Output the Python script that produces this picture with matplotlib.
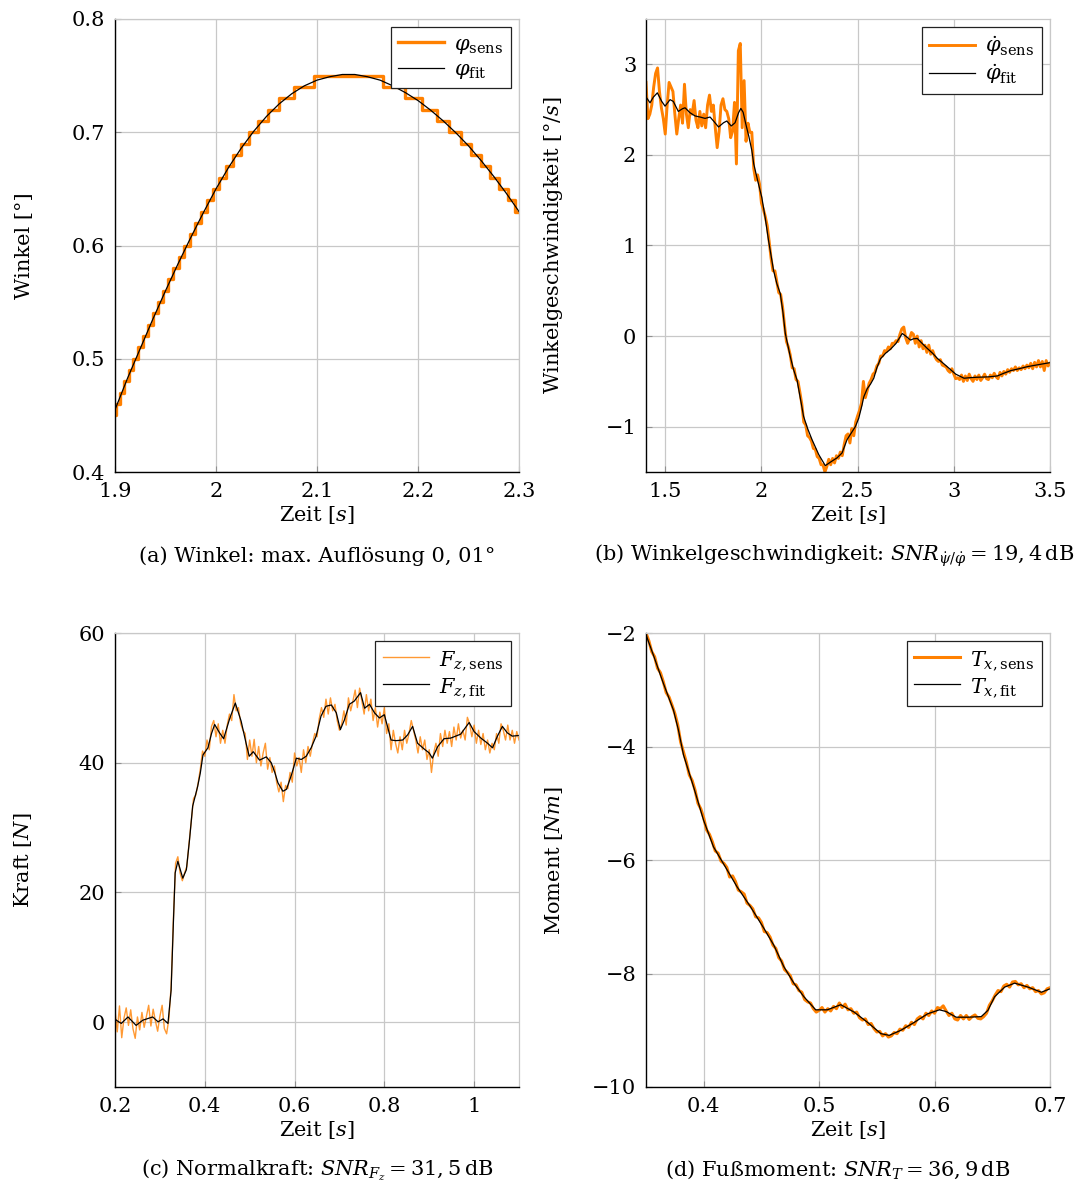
import numpy as np
import matplotlib
matplotlib.use('Agg')
import matplotlib.pyplot as plt
from matplotlib.ticker import FuncFormatter

plt.rcParams['font.family'] = 'DejaVu Serif'
plt.rcParams['mathtext.fontset'] = 'dejavuserif'
plt.rcParams['font.size'] = 15

ORANGE = '#ff8000'
GRID = '#c8c8c8'

# (a) Winkel: quantised sensor signal (step start times and levels) and fit
a_step_t = [1.9000, 1.9010, 1.9045, 1.9089, 1.9135, 1.9183, 1.9231, 1.9279, 1.9327, 1.9375,
            1.9425, 1.9475, 1.9526, 1.9578, 1.9630, 1.9685, 1.9739, 1.9795, 1.9852, 1.9911,
            1.9970, 2.0033, 2.0099, 2.0169, 2.0243, 2.0325, 2.0413, 2.0511, 2.0625, 2.0768,
            2.0975, 2.1650, 2.1875, 2.2044, 2.2184, 2.2310, 2.2424, 2.2529, 2.2625, 2.2714,
            2.2804, 2.2887, 2.2961]
a_step_v = [0.45, 0.46, 0.47, 0.48, 0.49, 0.50, 0.51, 0.52, 0.53, 0.54,
            0.55, 0.56, 0.57, 0.58, 0.59, 0.60, 0.61, 0.62, 0.63, 0.64,
            0.65, 0.66, 0.67, 0.68, 0.69, 0.70, 0.71, 0.72, 0.73, 0.74,
            0.75, 0.74, 0.73, 0.72, 0.71, 0.70, 0.69, 0.68, 0.67, 0.66,
            0.65, 0.64, 0.63]
a_fit_t = [1.9000, 1.9125, 1.9250, 1.9375, 1.9500, 1.9625, 1.9750, 1.9875, 2.0000, 2.0125,
           2.0250, 2.0375, 2.0500, 2.0625, 2.0750, 2.0875, 2.1000, 2.1125, 2.1250, 2.1375,
           2.1500, 2.1625, 2.1750, 2.1875, 2.2000, 2.2125, 2.2250, 2.2375, 2.2500, 2.2625,
           2.2750, 2.2875, 2.3000]
a_fit_v = [0.455, 0.483, 0.509, 0.535, 0.560, 0.584, 0.607, 0.629, 0.650, 0.669,
           0.686, 0.701, 0.714, 0.725, 0.734, 0.741, 0.746, 0.749, 0.751, 0.751,
           0.749, 0.746, 0.741, 0.735, 0.728, 0.7195, 0.710, 0.6995, 0.688, 0.675,
           0.661, 0.646, 0.630]

# (b) Winkelgeschwindigkeit: sensor sampled every 10 ms from 1.40 s, fit
b_sens_start, b_sens_dt = 1.40, 0.01
b_sens_v = [2.80, 2.40, 2.45, 2.55, 2.75, 2.90, 2.96, 2.70, 2.52, 2.40,
            2.23, 2.55, 2.80, 2.75, 2.70, 2.45, 2.23, 2.40, 2.55, 2.35,
            2.78, 2.45, 2.30, 2.50, 2.45, 2.60, 2.38, 2.30, 2.48, 2.32,
            2.45, 2.30, 2.55, 2.66, 2.48, 2.55, 2.30, 2.08, 2.26, 2.55,
            2.62, 2.50, 2.48, 2.40, 2.19, 2.26, 2.58, 1.90, 3.15, 3.23,
            2.30, 2.82, 2.15, 2.35, 2.25, 2.25, 1.85, 1.72, 1.78, 1.68,
            1.47, 1.40, 1.32, 1.22, 1.05, 0.86, 0.72, 0.72, 0.60, 0.48,
            0.46, 0.32, 0.12, -0.06, -0.12, -0.21, -0.35, -0.36, -0.48, -0.50,
            -0.62, -0.75, -0.95, -0.98, -1.10, -1.12, -1.16, -1.24, -1.25, -1.33,
            -1.35, -1.42, -1.42, -1.50, -1.44, -1.36, -1.42, -1.35, -1.40, -1.32,
            -1.35, -1.28, -1.32, -1.20, -1.10, -1.08, -1.18, -1.02, -1.10, -0.95,
            -0.88, -0.82, -0.74, -0.50, -0.68, -0.60, -0.52, -0.48, -0.42, -0.40,
            -0.33, -0.30, -0.22, -0.22, -0.16, -0.17, -0.12, -0.14, -0.08, -0.08,
            -0.05, -0.06, 0.02, 0.08, 0.10, -0.02, -0.08, -0.03, 0.04, 0.02,
            -0.08, 0.00, -0.12, -0.05, -0.14, -0.10, -0.18, -0.10, -0.20, -0.16,
            -0.22, -0.26, -0.28, -0.26, -0.32, -0.33, -0.34, -0.38, -0.40, -0.36,
            -0.42, -0.47, -0.46, -0.48, -0.43, -0.50, -0.44, -0.49, -0.42, -0.47,
            -0.50, -0.44, -0.48, -0.43, -0.49, -0.46, -0.42, -0.47, -0.48, -0.43,
            -0.46, -0.41, -0.45, -0.47, -0.40, -0.44, -0.39, -0.42, -0.37, -0.40,
            -0.36, -0.38, -0.34, -0.38, -0.35, -0.37, -0.33, -0.36, -0.32, -0.35,
            -0.30, -0.36, -0.29, -0.34, -0.27, -0.34, -0.28, -0.38, -0.27, -0.33,
            -0.30]
b_fit_t = [1.400, 1.421, 1.438, 1.459, 1.482, 1.499, 1.525, 1.542, 1.568, 1.590,
           1.603, 1.629, 1.655, 1.681, 1.707, 1.733, 1.751, 1.777, 1.803, 1.820,
           1.843, 1.863, 1.881, 1.893, 1.905, 1.920, 1.935, 1.950, 1.960, 1.980,
           2.002, 2.020, 2.037, 2.063, 2.080, 2.098, 2.112, 2.124, 2.150, 2.167,
           2.185, 2.200, 2.219, 2.240, 2.263, 2.298, 2.332, 2.358, 2.393, 2.419,
           2.445, 2.489, 2.506, 2.523, 2.532, 2.550, 2.567, 2.584, 2.600, 2.619,
           2.645, 2.671, 2.700, 2.732, 2.750, 2.775, 2.790, 2.810, 2.835, 2.862,
           2.890, 2.914, 2.945, 2.975, 3.010, 3.053, 3.090, 3.122, 3.180, 3.226,
           3.260, 3.296, 3.340, 3.383, 3.440, 3.500]
b_fit_v = [2.640, 2.575, 2.637, 2.685, 2.590, 2.538, 2.610, 2.590, 2.480, 2.510,
           2.520, 2.465, 2.430, 2.418, 2.403, 2.418, 2.374, 2.308, 2.355, 2.374,
           2.319, 2.355, 2.465, 2.513, 2.470, 2.330, 2.200, 2.050, 1.900, 1.720,
           1.530, 1.300, 1.055, 0.725, 0.580, 0.469, 0.260, 0.030, -0.227, -0.370,
           -0.484, -0.660, -0.886, -1.020, -1.143, -1.308, -1.430, -1.392, -1.344, -1.290,
           -1.143, -0.996, -0.905, -0.760, -0.670, -0.580, -0.530, -0.465, -0.350, -0.250,
           -0.190, -0.145, -0.080, 0.029, 0.000, -0.044, -0.030, -0.026, -0.080, -0.136,
           -0.190, -0.245, -0.300, -0.355, -0.420, -0.465, -0.458, -0.454, -0.450, -0.440,
           -0.410, -0.381, -0.360, -0.337, -0.315, -0.293]

# (c) Normalkraft: sensor sampled every 5 ms from 0.2 s, fit
c_sens_start, c_sens_dt = 0.20, 0.005
c_sens_v = [1.8, -1.5, 2.5, -2.4, 0.6, 2.2, -0.5, 1.9, -1.0, -2.5,
            0.8, -1.2, 1.5, -0.8, 0.9, 2.6, -0.6, 2.0, 0.2, -1.4,
            0.9, 2.6, -1.0, -1.8, 0.5, 5.5, 15.8, 24.5, 25.5, 23.0,
            21.8, 23.0, 24.0, 27.6, 31.0, 34.5, 35.0, 36.8, 39.0, 41.8,
            41.0, 43.5, 42.0, 45.6, 46.5, 44.0, 46.0, 43.0, 45.0, 43.0,
            45.8, 47.5, 46.5, 50.5, 48.0, 48.5, 46.0, 45.0, 44.5, 40.5,
            43.5, 41.0, 43.6, 40.0, 42.5, 39.5, 41.5, 43.0, 39.0, 40.8,
            38.5, 39.5, 37.0, 35.5, 37.0, 34.0, 36.5, 36.0, 38.5, 37.0,
            41.5, 39.5, 40.8, 38.5, 42.0, 40.0, 42.5, 41.0, 43.0, 44.5,
            44.0, 46.8, 48.5, 47.0, 49.8, 47.5, 50.0, 48.0, 49.0, 46.5,
            45.0, 46.0, 48.0, 45.8, 50.0, 48.0, 49.5, 51.2, 48.5, 51.5,
            49.5, 47.5, 50.5, 48.0, 49.8, 46.5, 48.5, 45.5, 47.8, 46.0,
            48.5, 44.5, 46.0, 42.0, 45.0, 43.0, 41.5, 44.0, 42.0, 45.0,
            43.0, 44.5, 46.5, 45.0, 43.5, 41.5, 44.0, 42.0, 43.5, 40.5,
            42.0, 38.5, 41.5, 43.0, 41.0, 44.5, 42.5, 45.0, 43.0, 44.8,
            42.5, 45.5, 43.5, 46.0, 43.8, 45.0, 43.5, 47.0, 46.0, 44.0,
            45.8, 43.0, 45.0, 42.8, 44.5, 42.0, 43.5, 41.5, 43.0, 42.0,
            44.5, 43.0, 46.0, 45.0, 43.5, 45.8, 43.5, 45.0, 43.0, 44.8,
            43.5]
c_fit_t = [0.200, 0.203, 0.214, 0.229, 0.247, 0.262, 0.284, 0.296, 0.307, 0.318,
           0.325, 0.330, 0.334, 0.340, 0.351, 0.359, 0.366, 0.373, 0.384, 0.390,
           0.396, 0.407, 0.415, 0.422, 0.433, 0.442, 0.455, 0.468, 0.481, 0.492,
           0.499, 0.508, 0.522, 0.537, 0.548, 0.556, 0.563, 0.574, 0.582, 0.593,
           0.604, 0.615, 0.626, 0.637, 0.648, 0.659, 0.670, 0.682, 0.693, 0.702,
           0.711, 0.722, 0.733, 0.747, 0.756, 0.767, 0.778, 0.789, 0.800, 0.807,
           0.815, 0.826, 0.841, 0.852, 0.863, 0.874, 0.889, 0.900, 0.907, 0.919,
           0.933, 0.948, 0.970, 0.989, 1.000, 1.015, 1.030, 1.041, 1.052, 1.063,
           1.074, 1.085, 1.100]
c_fit_v = [0.5, 0.3, -0.2, 0.8, -0.5, 0.3, 0.8, 0.05, 0.5, -0.2,
           4.9, 15.2, 23.0, 24.8, 22.2, 23.5, 28.1, 33.3, 36.3, 38.4,
           41.2, 42.3, 44.5, 45.9, 44.6, 43.7, 46.7, 49.2, 46.4, 43.0,
           41.0, 41.7, 40.4, 40.9, 40.0, 38.5, 36.9, 35.6, 35.9, 38.1,
           40.7, 40.5, 41.0, 42.3, 44.1, 47.2, 48.7, 48.9, 47.7, 45.1,
           46.6, 49.0, 49.5, 50.8, 48.4, 49.0, 47.7, 46.9, 47.4, 45.6,
           43.5, 43.4, 43.5, 44.3, 45.6, 43.0, 42.1, 41.5, 40.7, 42.5,
           43.7, 43.8, 44.4, 46.2, 44.8, 43.8, 43.0, 42.3, 44.1, 45.6,
           44.6, 44.1, 44.2]

# (d) Fussmoment: sensor sampled every 2.5 ms from 0.35 s, fit
d_sens_start, d_sens_dt = 0.35, 0.0025
d_sens_v = [-2.00, -2.14, -2.33, -2.42, -2.62, -2.70, -2.86, -3.05, -3.13, -3.27,
            -3.42, -3.62, -3.92, -4.10, -4.28, -4.50, -4.60, -4.77, -5.00, -5.10,
            -5.26, -5.47, -5.55, -5.68, -5.84, -5.88, -6.02, -6.06, -6.13, -6.30,
            -6.28, -6.38, -6.53, -6.56, -6.60, -6.76, -6.80, -6.86, -7.00, -7.02,
            -7.10, -7.26, -7.28, -7.36, -7.50, -7.56, -7.72, -7.78, -7.93, -7.98,
            -8.04, -8.18, -8.20, -8.30, -8.33, -8.46, -8.50, -8.52, -8.62, -8.68,
            -8.65, -8.60, -8.68, -8.62, -8.66, -8.58, -8.62, -8.52, -8.60, -8.54,
            -8.64, -8.62, -8.70, -8.68, -8.78, -8.82, -8.80, -8.90, -8.88, -8.97,
            -9.03, -9.02, -9.10, -9.06, -9.12, -9.10, -9.04, -9.06, -8.98, -9.00,
            -8.92, -8.95, -8.86, -8.90, -8.80, -8.76, -8.80, -8.70, -8.74, -8.66,
            -8.70, -8.60, -8.62, -8.57, -8.66, -8.74, -8.70, -8.80, -8.82, -8.74,
            -8.80, -8.74, -8.81, -8.76, -8.73, -8.79, -8.80, -8.76, -8.70, -8.56,
            -8.48, -8.38, -8.30, -8.32, -8.22, -8.19, -8.24, -8.15, -8.14, -8.20,
            -8.18, -8.25, -8.21, -8.27, -8.25, -8.32, -8.30, -8.36, -8.34, -8.27,
            -8.25]
d_fit_t = [0.3500, 0.3564, 0.3651, 0.3738, 0.3781, 0.3825, 0.3912, 0.3999, 0.4085, 0.4187,
           0.4288, 0.4404, 0.4520, 0.4607, 0.4694, 0.4781, 0.4868, 0.4970, 0.5071, 0.5187,
           0.5303, 0.5419, 0.5535, 0.5607, 0.5709, 0.5825, 0.5940, 0.6042, 0.6100, 0.6187,
           0.6288, 0.6404, 0.6462, 0.6520, 0.6607, 0.6694, 0.6810, 0.6925, 0.7000]
d_fit_v = [-2.03, -2.39, -2.89, -3.36, -3.71, -4.15, -4.71, -5.30, -5.77, -6.12,
           -6.47, -6.82, -7.20, -7.50, -7.88, -8.17, -8.41, -8.64, -8.64, -8.55,
           -8.68, -8.86, -9.06, -9.09, -9.00, -8.86, -8.71, -8.64, -8.67, -8.77,
           -8.77, -8.76, -8.65, -8.41, -8.24, -8.17, -8.24, -8.33, -8.27]


def sample_times(start, dt, values):
    return start + dt * np.arange(len(values))


def fmt(x, pos):
    return ('%g' % round(x, 6)).replace('-', '\u2212')


def style(ax, xlim, ylim, xticks, yticks, ylabel):
    ax.set_xlim(*xlim)
    ax.set_ylim(*ylim)
    ax.set_xticks(xticks)
    ax.set_yticks(yticks)
    ax.xaxis.set_major_formatter(FuncFormatter(fmt))
    ax.yaxis.set_major_formatter(FuncFormatter(fmt))
    ax.grid(True, color=GRID, lw=0.9)
    ax.set_axisbelow(True)
    for s in ['top', 'right']:
        ax.spines[s].set_color(GRID)
        ax.spines[s].set_linewidth(0.9)
    for s in ['left', 'bottom']:
        ax.spines[s].set_color('black')
        ax.spines[s].set_linewidth(1.0)
    ax.tick_params(direction='in', length=4, width=0.8, color='#909090', pad=7)
    ax.set_xlabel('Zeit [$s$]')
    ax.xaxis.set_label_coords(0.5, -0.07)
    ax.set_ylabel(ylabel)
    ax.yaxis.set_label_coords(-0.2, 0.5)


def legend(ax):
    leg = ax.legend(loc='upper right', fancybox=False, framealpha=1, edgecolor='#222222',
                    handlelength=2.2, handletextpad=0.5, labelspacing=0.2,
                    borderpad=0.35, borderaxespad=0.4)
    leg.get_frame().set_linewidth(0.9)


fig = plt.figure(figsize=(10.76, 11.89), dpi=100)
w = 404 / 1076
h_top = 453 / 1189
h_bot = 454 / 1189
ax_a = fig.add_axes([115 / 1076, 1 - 472 / 1189, w, h_top])
ax_b = fig.add_axes([646 / 1076, 1 - 472 / 1189, w, h_top])
ax_c = fig.add_axes([115 / 1076, 1 - 1087 / 1189, w, h_bot])
ax_d = fig.add_axes([646 / 1076, 1 - 1087 / 1189, w, h_bot])

# (a)
ax_a.step(a_step_t + [2.3], a_step_v + [a_step_v[-1]], where='post', color=ORANGE, lw=2.4,
          label=r'$\varphi_{\mathrm{sens}}$')
ax_a.plot(a_fit_t, a_fit_v, color='black', lw=0.9, label=r'$\varphi_{\mathrm{fit}}$')
style(ax_a, (1.9, 2.3), (0.4, 0.8), [1.9, 2.0, 2.1, 2.2, 2.3], [0.4, 0.5, 0.6, 0.7, 0.8],
      'Winkel [°]')
legend(ax_a)

# (b)
ax_b.plot(sample_times(b_sens_start, b_sens_dt, b_sens_v), b_sens_v, color=ORANGE, lw=2.1,
          label=r'$\dot{\varphi}_{\mathrm{sens}}$')
ax_b.plot(b_fit_t, b_fit_v, color='black', lw=0.9, label=r'$\dot{\varphi}_{\mathrm{fit}}$')
style(ax_b, (1.4, 3.5), (-1.5, 3.5), [1.5, 2.0, 2.5, 3.0, 3.5], [-1, 0, 1, 2, 3],
      'Winkelgeschwindigkeit [°/$s$]')
legend(ax_b)

# (c)
ax_c.plot(sample_times(c_sens_start, c_sens_dt, c_sens_v), c_sens_v, color=ORANGE, lw=1.0,
          alpha=0.8, label=r'$F_{z,\mathrm{sens}}$')
ax_c.plot(c_fit_t, c_fit_v, color='black', lw=0.9, label=r'$F_{z,\mathrm{fit}}$')
style(ax_c, (0.2, 1.1), (-10, 60), [0.2, 0.4, 0.6, 0.8, 1.0], [0, 20, 40, 60], 'Kraft [$N$]')
legend(ax_c)

# (d)
ax_d.plot(sample_times(d_sens_start, d_sens_dt, d_sens_v), d_sens_v, color=ORANGE, lw=2.2,
          label=r'$T_{x,\mathrm{sens}}$')
ax_d.plot(d_fit_t, d_fit_v, color='black', lw=0.9, label=r'$T_{x,\mathrm{fit}}$')
style(ax_d, (0.35, 0.7), (-10, -2), [0.4, 0.5, 0.6, 0.7], [-10, -8, -6, -4, -2],
      'Moment [$Nm$]')
legend(ax_d)

fig.text(317 / 1076, 1 - 556 / 1189, '(a) Winkel: max. Auflösung 0, 01°', ha='center', va='center')
fig.text(834 / 1076, 1 - 556 / 1189,
         r'(b) Winkelgeschwindigkeit: $SNR_{\dot{\psi}/\dot{\varphi}}=19,4\,\mathrm{dB}$',
         ha='center', va='center')
fig.text(317 / 1076, 1 - 1170 / 1189, r'(c) Normalkraft: $SNR_{F_z}=31,5\,\mathrm{dB}$',
         ha='center', va='center')
fig.text(838 / 1076, 1 - 1170 / 1189, r'(d) Fußmoment: $SNR_{T}=36,9\,\mathrm{dB}$',
         ha='center', va='center')

fig.savefig('out.png', dpi=100)
